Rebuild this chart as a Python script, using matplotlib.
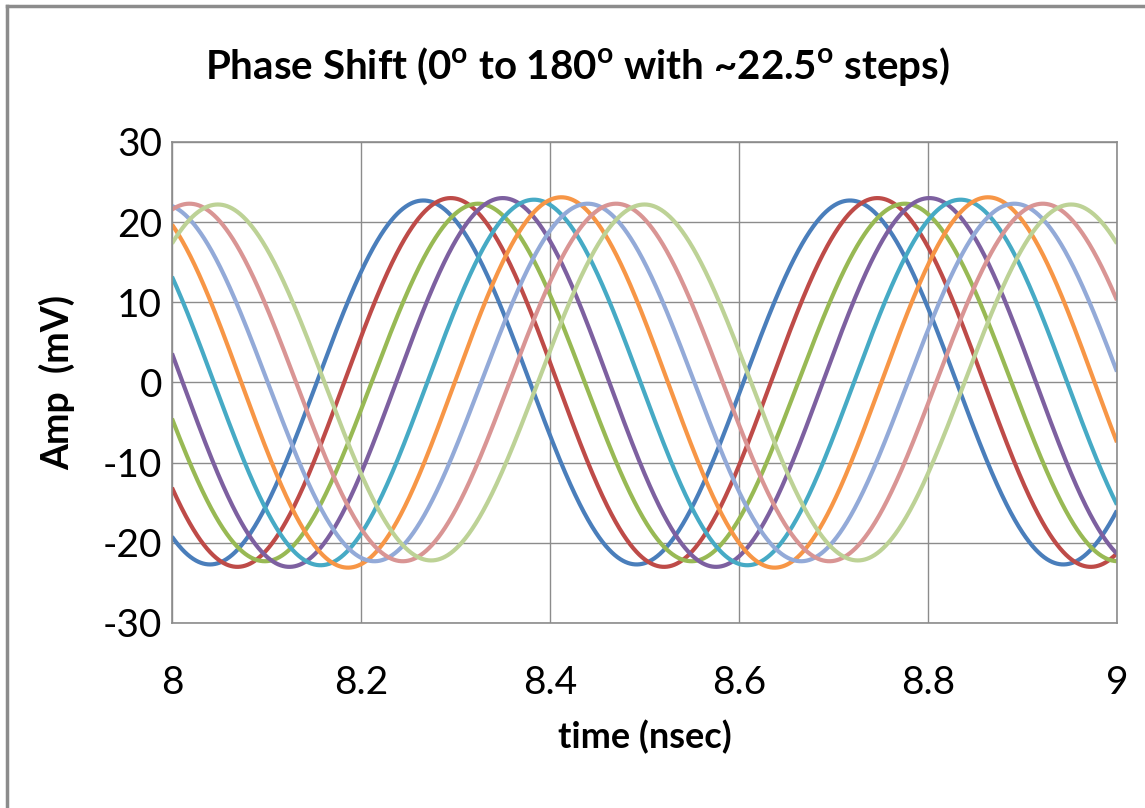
import numpy as np
import matplotlib
matplotlib.use("Agg")
import matplotlib.pyplot as plt
from matplotlib.lines import Line2D

# Sine traces: common period, per-trace peak time and amplitude
period_ns = 0.4515
peak_times = [8.266, 8.295, 8.324, 8.350, 8.383, 8.412, 8.440, 8.470, 8.500]
amplitudes = [22.7, 23.0, 22.3, 23.0, 22.8, 23.1, 22.3, 22.3, 22.2]
colors = ['#4A7EBB', '#BE4B48', '#98B954', '#7D60A0', '#46AAC5',
          '#F79646', '#93AAD8', '#D99594', '#BDD296']

x_ticks = [8, 8.2, 8.4, 8.6, 8.8, 9]
x_tick_labels = ['8', '8.2', '8.4', '8.6', '8.8', '9']
y_ticks = [-30, -20, -10, 0, 10, 20, 30]

plt.rcParams['font.family'] = ['Lato', 'DejaVu Sans']
plt.rcParams['mathtext.fontset'] = 'custom'
plt.rcParams['mathtext.rm'] = 'Lato'
plt.rcParams['mathtext.bf'] = 'Lato:bold'

fig = plt.figure(figsize=(11.45, 8.08), dpi=100)
ax = fig.add_axes([0.1502, 0.229, 0.8253, 0.5953])

t = np.linspace(8, 9, 2001)
for t0, amp, c in zip(peak_times, amplitudes, colors):
    ax.plot(t, amp * np.cos(2 * np.pi * (t - t0) / period_ns), color=c, lw=3.0,
            solid_capstyle='butt')

ax.set_xlim(8, 9)
ax.set_ylim(-30, 30)
ax.set_xticks(x_ticks)
ax.set_xticklabels(x_tick_labels, fontsize=28)
ax.set_yticks(y_ticks)
ax.set_yticklabels([str(v) for v in y_ticks], fontsize=28)
ax.tick_params(length=0)
ax.tick_params(axis='y', pad=7)
ax.tick_params(axis='x', pad=30)
ax.grid(True, color='#8C8C8C', lw=1)
ax.set_axisbelow(True)
for s in ax.spines.values():
    s.set_color('#8C8C8C')
    s.set_linewidth(1.2)

ax.set_xlabel('time (nsec)', fontsize=26, fontweight='bold', labelpad=14)
ax.set_ylabel('Amp  (mV)', fontsize=27, fontweight='bold', labelpad=20)

fig.text(0.504, 0.918,
         r'Phase Shift (0$^{\mathbf{o}}$ to 180$^{\mathbf{o}}$ with ~22.5$^{\mathbf{o}}$ steps)',
         fontsize=29, fontweight='bold', ha='center', va='center')

# chart frame (only top and left edges visible in the capture)
fig.add_artist(Line2D([0.006, 0.006], [0, 0.993], color='#8C8C8C', lw=2.5, transform=fig.transFigure))
fig.add_artist(Line2D([0.006, 1], [0.993, 0.993], color='#8C8C8C', lw=2.5, transform=fig.transFigure))

fig.savefig('out.png', dpi=100)
